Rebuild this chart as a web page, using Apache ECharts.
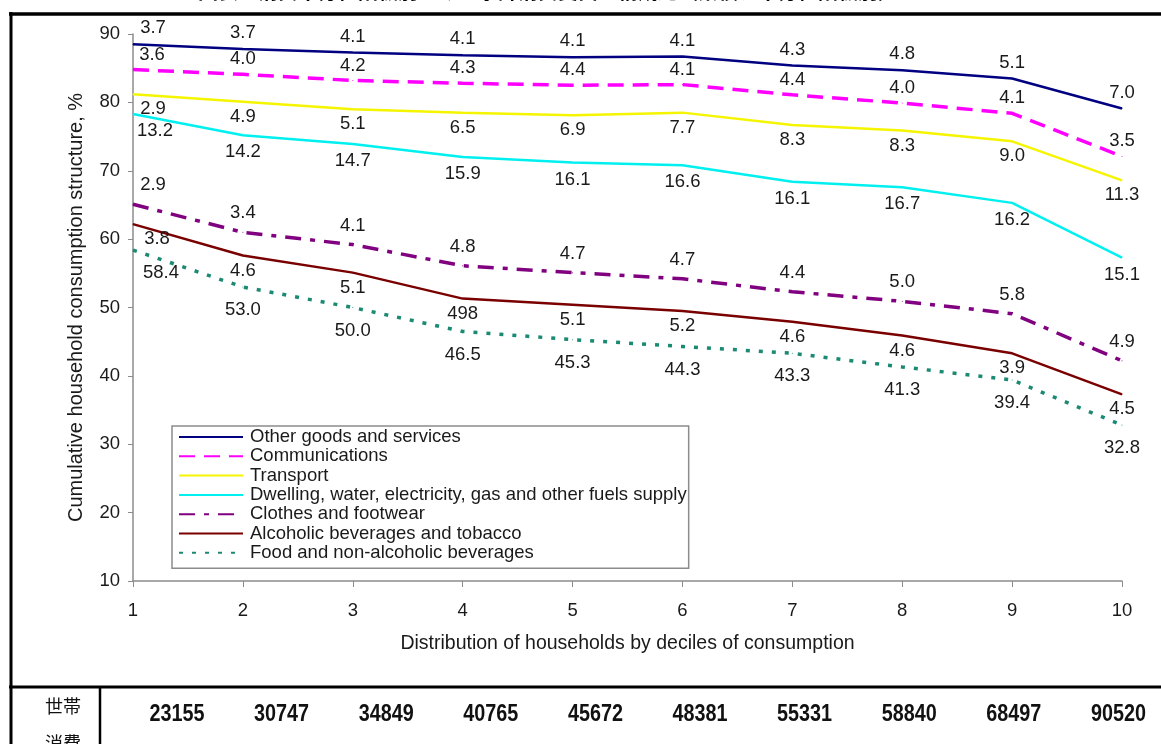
<!DOCTYPE html>
<html>
<head>
<meta charset="utf-8">
<script src="https://cdn.jsdelivr.net/npm/echarts@6/dist/echarts.min.js"></script>
<style>
  html, body { margin: 0; padding: 0; background: #fff; overflow: hidden; }
  #chart { width: 1161px; height: 744px; }
</style>
</head>
<body>
<div id="chart"></div>
<script>
// Deciles of households ranked by consumption
const deciles = ['1', '2', '3', '4', '5', '6', '7', '8', '9', '10'];

// Share of each consumption group, % (stacked from food upwards)
const food = [58.4, 53.0, 50.0, 46.5, 45.3, 44.3, 43.3, 41.3, 39.4, 32.8];
const alcohol = [3.8, 4.6, 5.1, 4.8, 5.1, 5.2, 4.6, 4.6, 3.9, 4.5];
const alcoholLabels = ['3.8', '4.6', '5.1', '498', '5.1', '5.2', '4.6', '4.6', '3.9', '4.5'];
const clothes = [2.9, 3.4, 4.1, 4.8, 4.7, 4.7, 4.4, 5.0, 5.8, 4.9];
const dwelling = [13.2, 14.2, 14.7, 15.9, 16.1, 16.6, 16.1, 16.7, 16.2, 15.1];
const transport = [2.9, 4.9, 5.1, 6.5, 6.9, 7.7, 8.3, 8.3, 9.0, 11.3];
const communications = [3.6, 4.0, 4.2, 4.3, 4.4, 4.1, 4.4, 4.0, 4.1, 3.5];
const otherGoods = [3.7, 3.7, 4.1, 4.1, 4.1, 4.1, 4.3, 4.8, 5.1, 7.0];

// Household consumption per decile (table row under the chart)
const householdConsumption = ['23155', '30747', '34849', '40765', '45672', '48381', '55331', '58840', '68497', '90520'];
const rowHeader = ['世帯', '消費'];
const titleText = '図表　消費十分位階級別にみた家計消費支出の構成比（累積、十分位階級別）';

const yTicks = { min: 10, max: 90, step: 10 };

const FONT = "'Liberation Sans', Arial, sans-serif";
const chart = echarts.init(document.getElementById('chart'), null, { renderer: 'canvas' });

function makeSeries(name, values, color, lineType, width, pos, dist, firstShift, labels) {
  return {
    name: name,
    type: 'line',
    stack: 'total',
    symbol: 'circle',
    symbolSize: 1,
    showSymbol: true,
    smooth: false,
    lineStyle: { color: color, width: width, type: lineType, cap: 'butt' },
    itemStyle: { color: color },
    label: {
      show: true,
      position: pos,
      distance: dist,
      fontFamily: FONT,
      fontSize: 18.5,
      color: '#1a1a1a',
      formatter: p => labels ? labels[p.dataIndex] : p.value.toFixed(1)
    },
    // keep the first label clear of the y axis
    labelLayout: p => (p.dataIndex === 0 ? { dx: firstShift, hideOverlap: false } : { hideOverlap: false }),
    data: values,
    z: 3
  };
}

const series = [
  makeSeries('Food and non-alcoholic beverages', food, '#1a8a72', [4, 9], 3.5, 'bottom', 13, 28),
  makeSeries('Alcoholic beverages and tobacco', alcohol, '#7a0000', 'solid', 2.5, 'bottom', 5, 24, alcoholLabels),
  makeSeries('Clothes and footwear', clothes, '#800080', [16, 9, 5, 9], 3.5, 'top', 9, 20),
  makeSeries('Dwelling, water, electricity, gas and other fuels supply', dwelling, '#00f0f0', 'solid', 2.5, 'bottom', 7, 22),
  makeSeries('Transport', transport, '#f5f500', 'solid', 2.5, 'bottom', 5, 20),
  makeSeries('Communications', communications, '#ff00ff', [16, 9], 3.5, 'top', 5, 19),
  makeSeries('Other goods and services', otherGoods, '#000080', 'solid', 2.5, 'top', 6, 20)
];

const legendOrder = series.map(s => s.name).reverse();

// Table cell positions under the chart
const cellStart = 177, cellStep = 104.6;
const tableTexts = householdConsumption.map((t, i) => ({
  type: 'text',
  x: cellStart + i * cellStep,
  y: 715,
  scaleX: 0.86,
  style: {
    text: t,
    x: 0,
    y: 0,
    fontFamily: "'Liberation Sans Narrow', 'Liberation Sans', sans-serif",
    fontWeight: 'bold',
    fontSize: 23,
    fill: '#111',
    align: 'center',
    verticalAlign: 'middle'
  },
  z: 10
}));

const option = {
  backgroundColor: '#fff',
  animation: false,
  grid: { left: 133, right: 39, top: 34, bottom: 163, containLabel: false },
  xAxis: {
    type: 'category',
    data: deciles,
    boundaryGap: false,
    name: 'Distribution of households by deciles of consumption',
    nameLocation: 'middle',
    nameGap: 53,
    nameTextStyle: { fontFamily: FONT, fontSize: 19.5, color: '#1a1a1a' },
    axisLine: { lineStyle: { color: '#8c8c8c', width: 1.5 } },
    axisTick: { show: true, length: 6, alignWithLabel: true, lineStyle: { color: '#8c8c8c' } },
    axisLabel: { fontFamily: FONT, fontSize: 18.5, color: '#1a1a1a', margin: 20 },
    splitLine: { show: false }
  },
  yAxis: {
    type: 'value',
    min: yTicks.min,
    max: yTicks.max,
    interval: yTicks.step,
    name: 'Cumulative household consumption structure, %',
    nameLocation: 'middle',
    nameGap: 47,
    nameTextStyle: { fontFamily: FONT, fontSize: 20, color: '#1a1a1a' },
    axisLine: { show: true, lineStyle: { color: '#8c8c8c', width: 1.5 } },
    axisTick: { show: true, length: 5, lineStyle: { color: '#8c8c8c' } },
    axisLabel: { fontFamily: FONT, fontSize: 18.5, color: '#1a1a1a', margin: 13 },
    splitLine: { show: false }
  },
  legend: {
    data: legendOrder,
    orient: 'vertical',
    left: 172,
    top: 426,
    itemWidth: 64,
    itemHeight: 14,
    itemGap: 0.3,
    padding: [1.5, 2, 6, 6],
    backgroundColor: '#fff',
    borderColor: '#8c8c8c',
    borderWidth: 1.5,
    borderRadius: 0,
    selectedMode: false,
    itemStyle: { opacity: 0 },
    textStyle: { fontFamily: FONT, fontSize: 18.5, lineHeight: 19, color: '#1a1a1a', padding: [0, 0, 0, 2] }
  },
  graphic: [
    // page title (runs off the top edge)
    { type: 'text', x: 198, y: -19, style: { text: titleText, fontFamily: "'Noto Sans CJK JP', sans-serif", fontWeight: 'bold', fontSize: 20, fill: '#000' }, z: 10 },
    // frame
    { type: 'line', shape: { x1: 9, y1: 14, x2: 1161, y2: 14 }, style: { stroke: '#000', lineWidth: 3.5 }, z: 10 },
    { type: 'line', shape: { x1: 11, y1: 12, x2: 11, y2: 744 }, style: { stroke: '#000', lineWidth: 3 }, z: 10 },
    { type: 'line', shape: { x1: 9, y1: 687, x2: 1161, y2: 687 }, style: { stroke: '#000', lineWidth: 3 }, z: 10 },
    { type: 'line', shape: { x1: 100, y1: 687, x2: 100, y2: 744 }, style: { stroke: '#000', lineWidth: 2.5 }, z: 10 },
    // row header
    { type: 'text', x: 63, y: 706, style: { text: rowHeader[0], fontFamily: "'Noto Sans CJK JP', sans-serif", fontSize: 18, fill: '#111', align: 'center', verticalAlign: 'middle' }, z: 10 },
    { type: 'text', x: 63, y: 743, style: { text: rowHeader[1], fontFamily: "'Noto Sans CJK JP', sans-serif", fontSize: 18, fill: '#111', align: 'center', verticalAlign: 'middle' }, z: 10 }
  ].concat(tableTexts),
  series: series
};

chart.setOption(option);
</script>
</body>
</html>
